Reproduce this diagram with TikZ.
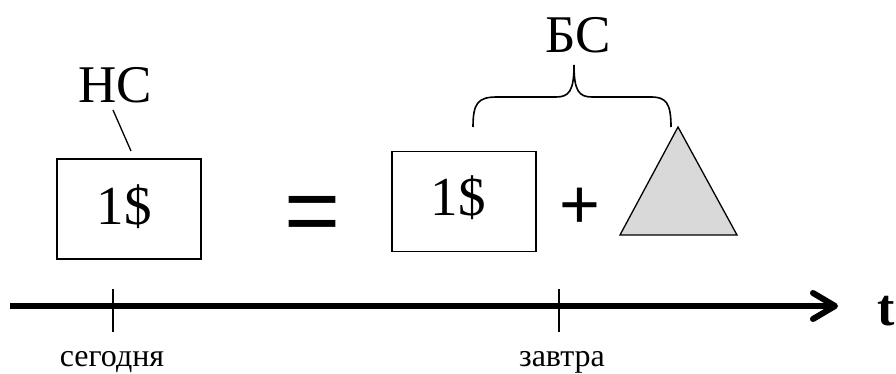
\documentclass[tikz,border=0pt]{standalone}
\usepackage{fontspec}
\setmainfont{Liberation Serif}
\newfontfamily\signfont{Liberation Sans}
\usetikzlibrary{arrows.meta}

\begin{document}
\begin{tikzpicture}[x=1pt,y=1pt,yscale=-1,xscale=1,
  moneybox/.style={draw,line width=1.3,minimum width=144pt,minimum height=100pt,inner sep=0},
  bigtext/.style={font=\fontsize{55}{60}\selectfont,inner sep=0,anchor=base},
  signtext/.style={inner sep=0,anchor=center},
  daytext/.style={font=\fontsize{32}{36}\selectfont,inner sep=0,anchor=base},
  tickline/.style={line width=1.4}]
\useasboundingbox (0,0) rectangle (896,374);

%Shape: Rectangle [today]
\node [moneybox] (boxToday) at (129,209) {};
% Text Node
\node [bigtext] (sumToday) at (124,224) {1\$};
%Shape: Rectangle [tomorrow]
\node [moneybox] (boxTomorrow) at (464,201.5) {};
% Text Node
\node [bigtext] (sumTomorrow) at (458,215) {1\$};

% Text Node
\node [signtext,font=\signfont\fontsize{96}{100}\selectfont] (eqSign) at (312.5,220) {=};
% Text Node
\node [signtext,font=\signfont\fontsize{70}{74}\selectfont] (plusSign) at (580,208) {+};

%Shape: Triangle
\coordinate (triTop) at (678,127);
\coordinate (triLeft) at (620,235);
\coordinate (triRight) at (737,235);
\draw [line width=1.3,fill={rgb, 255:red, 217; green, 217; blue, 217}] (triTop) -- (triRight) -- (triLeft) -- cycle;

% Text Node
\node [bigtext,font=\fontsize{53}{58}\selectfont] (nsLabel) at (115,103) {НС};
\coordinate (nsFrom) at (113,110);
\coordinate (nsTo) at (131,151);
%Straight Lines
\draw [line width=1.3] (nsFrom) -- (nsTo);

% Text Node
\node [bigtext,font=\fontsize{53}{58}\selectfont] (bsLabel) at (578,53) {БС};
\coordinate (braceLeft) at (473,127);
\coordinate (braceTip) at (574,65);
\coordinate (braceRight) at (671,127);
%Curve Lines [brace]
\draw [line width=1.6] (braceLeft) .. controls (473,103) and (478,97) .. (497,97) -- (556,97) .. controls (569,97) and (574,91) .. (braceTip) .. controls (574,91) and (579,97) .. (592,97) -- (651,97) .. controls (666,97) and (671,103) .. (braceRight);

%Shape: Axis
\coordinate (axisStart) at (10,306);
\coordinate (axisEnd) at (838,306);
\draw [line width=6,-{Straight Barb[length=22pt,width=26pt,round]}] (axisStart) -- (axisEnd);
% Text Node
\node [inner sep=0,anchor=base,font=\bfseries\fontsize{52}{56}\selectfont] (tLabel) at (886,325) {t};

%Straight Lines [ticks]
\coordinate (todayUp) at (113,289);
\coordinate (todayDown) at (113,332);
\coordinate (tomorrowUp) at (559,289);
\coordinate (tomorrowDown) at (559,332);
\draw [tickline] (todayUp) -- (todayDown);
\draw [tickline] (tomorrowUp) -- (tomorrowDown);

% Text Node
\node [daytext] (today) at (112,366) {сегодня};
% Text Node
\node [daytext] (tomorrow) at (562,366) {завтра};

\end{tikzpicture}
\end{document}
